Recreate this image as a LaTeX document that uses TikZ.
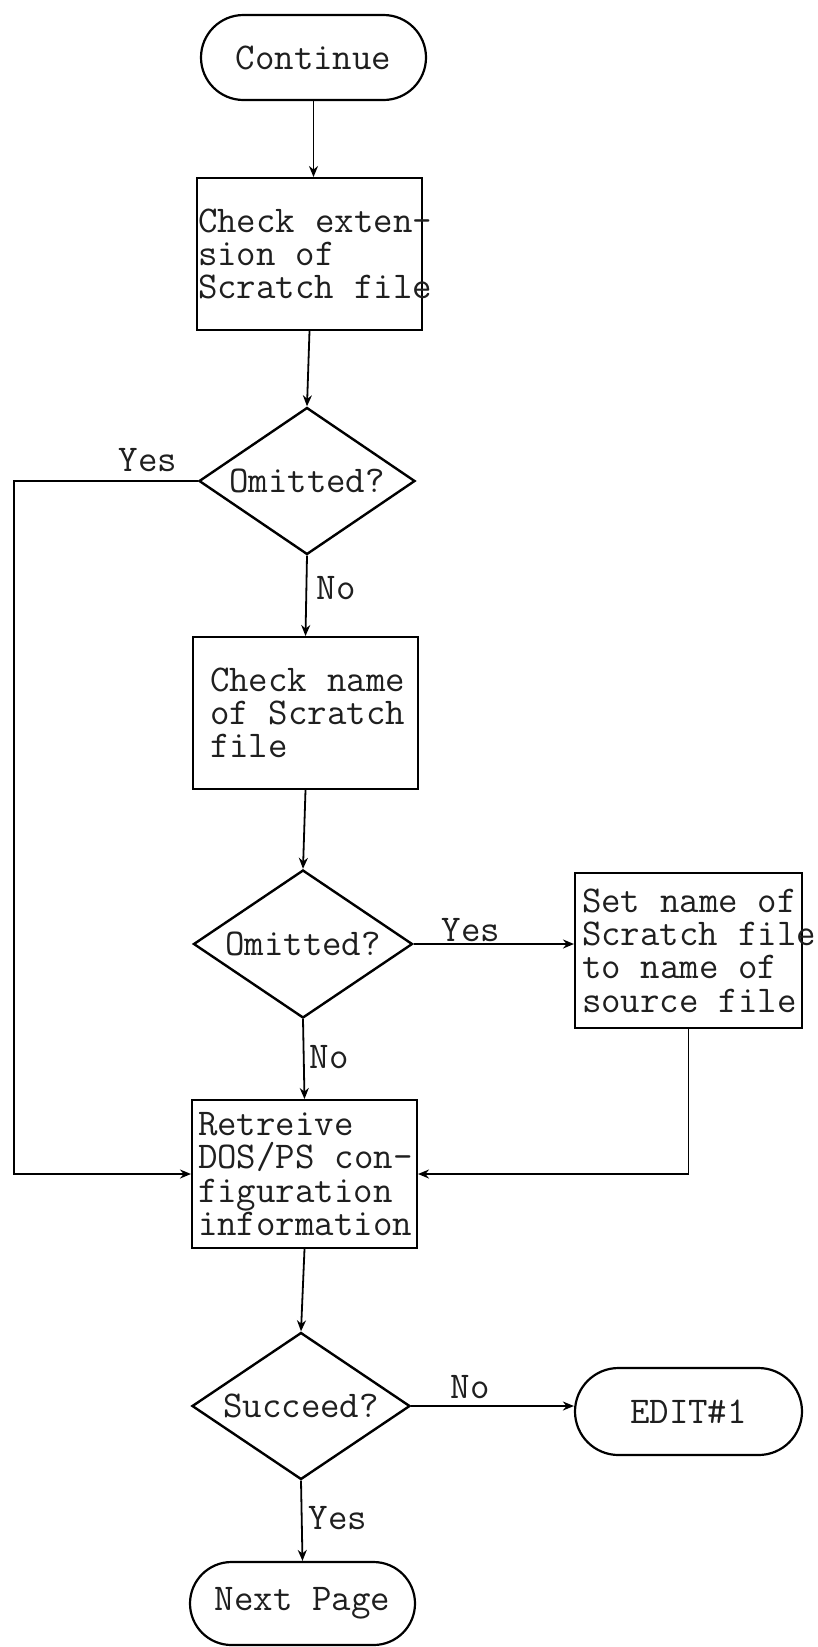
\documentclass[tikz,border=0pt]{standalone}
\usepackage{fontspec}
\usetikzlibrary{shapes.geometric,shapes.misc,arrows.meta}
\newcommand{\twfont}{\fontsize{37.8}{33.3}\selectfont\ttfamily\addfontfeatures{FakeBold=0.8}%
  \fontdimen2\font=0.525em\relax\fontdimen3\font=0pt\relax\fontdimen4\font=0pt\relax}
\newcommand{\tline}[1]{\mbox{\spaceskip=0.525em\relax\xspaceskip=0.525em\relax #1}}
\begin{document}
\begin{tikzpicture}[x=1pt,y=-1pt, line width=2pt,
  every node/.style={font=\twfont, text=black!88},
  term/.style={draw, rounded rectangle, inner sep=0pt, line width=2.2pt},
  proc/.style={draw, rectangle, align=left, inner ysep=0pt, line width=2pt},
  dec/.style={draw, diamond, aspect=1.47, inner sep=0pt, line width=2.4pt},
  lbl/.style={inner sep=0pt},
  arr/.style={-{Stealth[length=11pt,width=9pt]}, line width=1.8pt}]
\useasboundingbox (0,0) rectangle (818,1647);
\fill[white] (0,0) rectangle (818,1647);

% nodes
\node[term, minimum width=225pt, minimum height=85pt] (cont) at (313.5,57.5) {Continue};
\node[proc, minimum width=225pt, minimum height=152pt, text width=223pt, inner xsep=1pt] (b1) at (309.5,254)
  {\tline{Check exten-}\\\tline{sion of}\\\tline{Scratch file}};
\node[dec, minimum width=216pt, minimum height=147pt] (d1) at (307,481) {Omitted?};
\node[proc, minimum width=225pt, minimum height=152pt, text width=191pt, inner xsep=17pt] (b2) at (305.5,713)
  {\tline{Check name}\\\tline{of Scratch}\\\tline{file}};
\node[dec, minimum width=219pt, minimum height=148pt] (d2) at (303,944) {Omitted?};
\node[proc, minimum width=227pt, minimum height=155pt, text width=213pt, inner xsep=7pt] (b4) at (688.5,950.5)
  {\tline{Set name of}\\\tline{Scratch file}\\\tline{to name of}\\\tline{source file}};
\node[proc, minimum width=225pt, minimum height=148pt, text width=213pt, inner xsep=6pt] (b3) at (304.5,1174)
  {\tline{Retreive}\\\tline{DOS/PS con-}\\\tline{figuration}\\\tline{information}};
\node[dec, minimum width=218pt, minimum height=147pt] (d3) at (301,1406) {Succeed?};
\node[term, minimum width=227pt, minimum height=87pt] (edit) at (688.5,1411.5) {EDIT\#1};
\node[term, minimum width=225pt, minimum height=83pt] (next) at (302.5,1603.5) {Next Page};

% labels
\node[lbl] (l1) at (148,460) {Yes};
\node[lbl] (l2) at (336,588) {No};
\node[lbl] (l3) at (471,930) {Yes};
\node[lbl] (l4) at (329,1057) {No};
\node[lbl] (l5) at (470,1387) {No};
\node[lbl] (l6) at (338,1518) {Yes};

\coordinate (lx) at (14,0);

% connectors
\draw[arr] (cont.south) -- (cont.south |- b1.north);
\draw[arr] (b1.south) -- (d1.north);
\draw[arr] (d1.south) -- (b2.north);
\draw[arr] (b2.south) -- (d2.north);
\draw[arr] (d2.east) -- (d2.east -| b4.west);
\draw[arr] (d2.south) -- (b3.north);
\draw[arr] (d1.west) -- (d1.west -| lx) -- (lx |- b3.west) -- (b3.west);
\draw[arr] (b4.south) -- (b4.south |- b3.east) -- (b3.east);
\draw[arr] (b3.south) -- (d3.north);
\draw[arr] (d3.east) -- (d3.east -| edit.west);
\draw[arr] (d3.south) -- (next.north);
\end{tikzpicture}
\end{document}
